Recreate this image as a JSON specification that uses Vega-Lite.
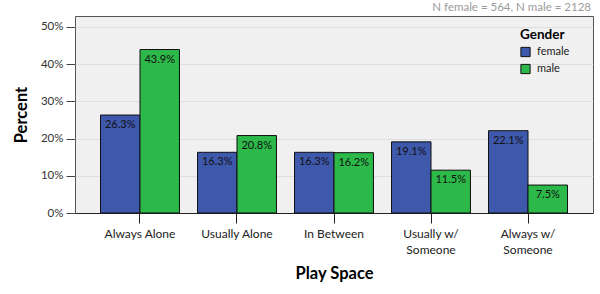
{
  "$schema": "https://vega.github.io/schema/vega-lite/v6.json",
  "autosize": {"type": "none"},
  "width": 518,
  "height": 197,
  "padding": {"left": 75, "top": 16, "right": 7, "bottom": 81},
  "title": {"text": "N female = 564, N male = 2128", "anchor": "end", "fontSize": 11.5, "color": "#9a9a9a", "fontWeight": "normal", "font": "Lato", "offset": 3, "dx": -2},
  "config": {
    "font": "Lato",
    "view": {"fill": "#F0F0F0", "stroke": "#555555", "strokeWidth": 1}
  },
  "data": {
    "values": [
      {"space": "Always Alone", "gender": "female", "pct": 0.263},
      {"space": "Always Alone", "gender": "male", "pct": 0.439},
      {"space": "Usually Alone", "gender": "female", "pct": 0.163},
      {"space": "Usually Alone", "gender": "male", "pct": 0.208},
      {"space": "In Between", "gender": "female", "pct": 0.163},
      {"space": "In Between", "gender": "male", "pct": 0.162},
      {"space": "Usually w/ Someone", "gender": "female", "pct": 0.191},
      {"space": "Usually w/ Someone", "gender": "male", "pct": 0.115},
      {"space": "Always w/ Someone", "gender": "female", "pct": 0.221},
      {"space": "Always w/ Someone", "gender": "male", "pct": 0.075}
    ]
  },
  "encoding": {
    "x": {
      "field": "space", "type": "nominal", "sort": null,
      "scale": {"paddingInner": 0.186, "paddingOuter": 0.263},
      "axis": {
        "title": "Play Space", "titleFontSize": 16.5, "titleFontWeight": "bold", "titleColor": "#000", "titlePadding": 10,
        "labelAngle": 0, "labelFontSize": 12, "labelColor": "#222", "labelPadding": 5, "labelLineHeight": 16,
        "labelExpr": "datum.value == 'Usually w/ Someone' ? ['Usually w/', 'Someone'] : datum.value == 'Always w/ Someone' ? ['Always w/', 'Someone'] : datum.value",
        "tickSize": 10, "tickColor": "#222", "domainColor": "#222", "grid": false
      }
    },
    "xOffset": {"field": "gender", "type": "nominal", "scale": {"paddingInner": 0, "paddingOuter": 0}},
    "y": {
      "field": "pct", "type": "quantitative",
      "scale": {"domain": [0, 0.529], "nice": false},
      "axis": {
        "title": "Percent", "titleFontSize": 16.5, "titleFontWeight": "bold", "titleColor": "#000", "titlePadding": 11,
        "values": [0, 0.1, 0.2, 0.3, 0.4, 0.5], "format": ".0%",
        "labelFontSize": 11.5, "labelColor": "#333", "labelPadding": 3,
        "tickSize": 9, "tickColor": "#444", "domain": false,
        "gridColor": "#DEDEDE", "gridWidth": 1
      }
    }
  },
  "layer": [
    {
      "mark": {"type": "bar", "stroke": "#111", "strokeWidth": 1},
      "encoding": {
        "color": {
          "field": "gender", "type": "nominal",
          "scale": {"domain": ["female", "male"], "range": ["#3E58AC", "#2DB84A"]},
          "legend": {
            "title": "Gender", "orient": "none", "legendX": 445, "legendY": 12,
            "titleFontSize": 13.5, "titleFontWeight": "bold", "titleColor": "#000", "titlePadding": 5,
            "labelFontSize": 11, "labelColor": "#222", "labelOffset": 6,
            "symbolType": "square", "symbolSize": 85, "symbolStrokeColor": "#111", "symbolStrokeWidth": 1, "symbolOpacity": 1,
            "rowPadding": 2
          }
        }
      }
    },
    {
      "mark": {"type": "text", "baseline": "top", "dy": 4, "fontSize": 11, "color": "#111"},
      "encoding": {"text": {"field": "pct", "type": "quantitative", "format": ".1%"}}
    }
  ]
}
